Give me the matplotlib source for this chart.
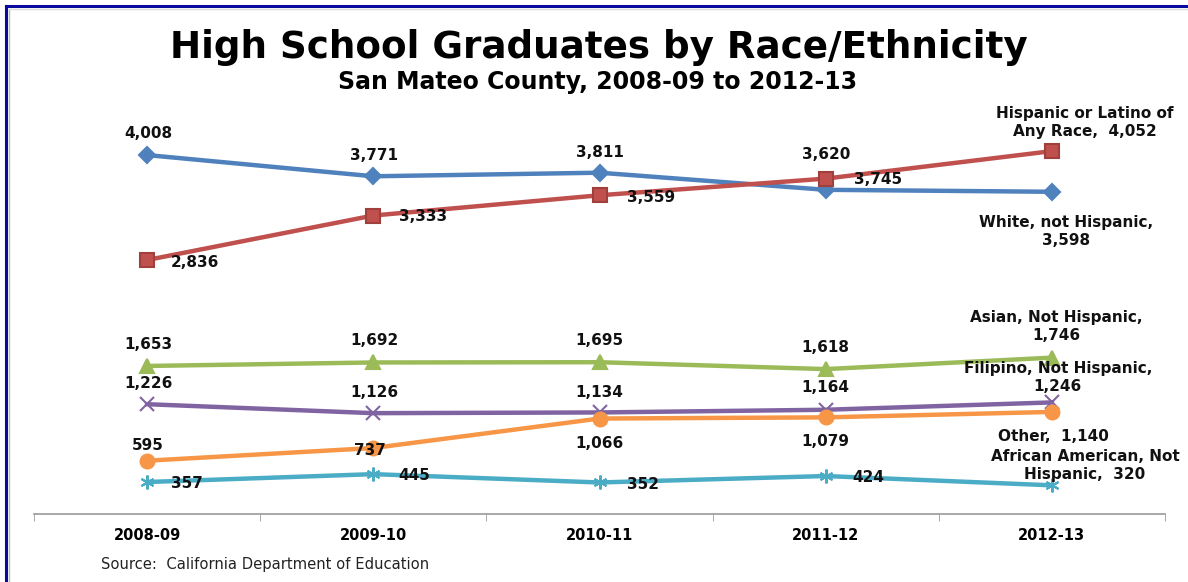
import numpy as np
import matplotlib
matplotlib.use('Agg')
import matplotlib.pyplot as plt
from matplotlib.lines import Line2D

plt.rcParams['font.family'] = ['DejaVu Sans']

# データ
years = ['2008-09', '2009-10', '2010-11', '2011-12', '2012-13']
white = [4008, 3771, 3811, 3620, 3598]
hispanic = [2836, 3333, 3559, 3745, 4052]
asian = [1653, 1692, 1695, 1618, 1746]
filipino = [1226, 1126, 1134, 1164, 1246]
other = [595, 737, 1066, 1079, 1140]
african = [357, 445, 352, 424, 320]

end_labels = {
    'white': 'White, not Hispanic,\n3,598',
    'hispanic': 'Hispanic or Latino of\nAny Race,  4,052',
    'asian': 'Asian, Not Hispanic,\n1,746',
    'filipino': 'Filipino, Not Hispanic,\n1,246',
    'other': 'Other,  1,140',
    'african': 'African American, Not\nHispanic,  320',
}

# 系列ごとのスタイルとラベル位置（ピクセルオフセット）
series = [
    ('white', white, '#4F81BD', 'D', 8, '#4F81BD',
     [(1, 22), (1, 21), (0, 20), (0, 35)], (14, -40)),
    ('hispanic', hispanic, '#C0504D', 's', 9.5, '#A0403D',
     [(48, -2), (50, -1), (52, -2), (52, -1)], (33, 29)),
    ('asian', asian, '#9BBB59', '^', 10, '#9BBB59',
     [(1, 21), (1, 22), (0, 22), (0, 22)], (4, 31)),
    ('filipino', filipino, '#8064A2', 'x', 10, '#8064A2',
     [(1, 21), (1, 21), (0, 20), (0, 22)], (6, 25)),
    ('other', other, '#F79646', 'o', 10, '#F79646',
     [(1, 15), (-3, -3), (0, -25), (0, -24)], (2, -25)),
    ('african', african, '#4BACC6', (6, 2, 0), 10, '#4BACC6',
     [(40, -1), (41, -1), (43, -2), (43, -1)], (33, 20)),
]

fig = plt.figure(figsize=(11.88, 5.82), dpi=100)
ax = fig.add_axes([34 / 1188, 1 - 514 / 582, (1165 - 34) / 1188, 403 / 582])

x = np.arange(len(years))
for key, vals, color, marker, ms, edge, offs, end_off in series:
    ax.plot(x, vals, color=color, lw=3.2, marker=marker, markersize=ms,
            markerfacecolor=color, markeredgecolor=edge, markeredgewidth=1.5,
            solid_joinstyle='round', zorder=3)
    for i in range(len(vals) - 1):
        ax.annotate(f'{vals[i]:,}', (x[i], vals[i]), xytext=offs[i],
                    textcoords='offset pixels', ha='center', va='center',
                    fontsize=11, fontweight='bold', color='#111111', zorder=5)
    ax.annotate(end_labels[key], (x[-1], vals[-1]), xytext=end_off,
                textcoords='offset pixels', ha='center', va='center',
                fontsize=11, fontweight='bold', color='#111111',
                linespacing=1.25, zorder=5)

ax.set_xlim(-0.5, len(years) - 0.5)
ax.set_ylim(0, 4500)
ax.set_xticks(x)
ax.set_xticklabels(years, fontsize=10.5, fontweight='bold')
ax.set_xticks(np.arange(-0.5, len(years), 1.0), minor=True)
ax.tick_params(axis='x', which='major', length=0, pad=10)
ax.tick_params(axis='x', which='minor', length=5, color='#999999', direction='out')
ax.set_yticks([])
for s in ['top', 'right', 'left']:
    ax.spines[s].set_visible(False)
ax.spines['bottom'].set_color('#999999')
ax.spines['bottom'].set_linewidth(1.2)
ax.patch.set_visible(False)

# タイトル
fig.text(0.504, 1 - 47 / 582, 'High School Graduates by Race/Ethnicity',
         ha='center', va='center', fontsize=26.8, fontweight='bold')
fig.text(0.503, 1 - 82 / 582, 'San Mateo County, 2008-09 to 2012-13',
         ha='center', va='center', fontsize=17, fontweight='bold')
fig.text(101 / 1188, 1 - 565 / 582, 'Source:  California Department of Education',
         ha='left', va='center', fontsize=10.6, color='#222222')

# 枠線（上と左）
fig.add_artist(Line2D([6 / 1188, 1], [1 - 6 / 582, 1 - 6 / 582],
                      transform=fig.transFigure, color='#0A0A9E', lw=2.2))
fig.add_artist(Line2D([6 / 1188, 6 / 1188], [0, 1 - 6 / 582],
                      transform=fig.transFigure, color='#0A0A9E', lw=2.2))
fig.add_artist(Line2D([8.5 / 1188, 8.5 / 1188], [0, 1 - 8.5 / 582],
                      transform=fig.transFigure, color='#BBBBBB', lw=1))
fig.add_artist(Line2D([8.5 / 1188, 1], [1 - 8.5 / 582, 1 - 8.5 / 582],
                      transform=fig.transFigure, color='#DDDDDD', lw=1))

plt.savefig('out.png', dpi=100)
